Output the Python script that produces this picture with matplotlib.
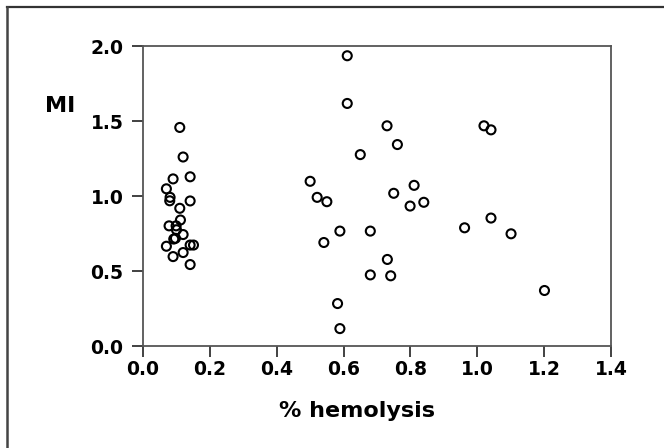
import matplotlib
matplotlib.use("Agg")
import matplotlib.pyplot as plt
from matplotlib.lines import Line2D

hemolysis = [0.110, 0.120, 0.090, 0.141, 0.070, 0.081, 0.080, 0.141, 0.110, 0.112,
             0.078, 0.099, 0.120, 0.100, 0.092, 0.097, 0.070, 0.141, 0.151, 0.090,
             0.120, 0.141,
             0.611, 0.611, 0.730, 0.761, 0.650, 0.500, 0.521, 0.550, 0.541, 0.589,
             0.680, 0.582, 0.589, 0.731, 0.680, 0.741, 0.750, 0.811, 0.799, 0.840,
             1.020, 1.041, 1.041, 0.962, 1.101, 1.201]
mi = [1.457, 1.260, 1.114, 1.128, 1.048, 0.991, 0.968, 0.967, 0.918, 0.840,
      0.801, 0.801, 0.743, 0.775, 0.713, 0.718, 0.665, 0.673, 0.673, 0.596,
      0.623, 0.543,
      1.935, 1.617, 1.468, 1.343, 1.276, 1.098, 0.991, 0.962, 0.690, 0.766,
      0.766, 0.283, 0.116, 0.577, 0.474, 0.468, 1.018, 1.071, 0.933, 0.958,
      1.468, 1.441, 0.853, 0.788, 0.748, 0.370]

xticks = [0.0, 0.2, 0.4, 0.6, 0.8, 1.0, 1.2, 1.4]
yticks = [0.0, 0.5, 1.0, 1.5, 2.0]

plt.rcParams['font.family'] = ['DejaVu Sans']

W, H = 664, 448
fig = plt.figure(figsize=(W / 100, H / 100), dpi=100)
ax = fig.add_axes([143 / W, 1 - 346 / H, (611 - 143) / W, (346 - 46) / H])

ax.scatter(hemolysis, mi, s=42, facecolors='none', edgecolors='black',
           linewidths=1.5, zorder=3, clip_on=False)

ax.set_xlim(0, 1.4)
ax.set_ylim(0, 2.0)
ax.set_xticks(xticks)
ax.set_yticks(yticks)
ax.set_xticklabels([f"{t:.1f}" for t in xticks], fontsize=13.5, fontweight='bold')
ax.set_yticklabels([f"{t:.1f}" for t in yticks], fontsize=13.5, fontweight='bold')
ax.tick_params(direction='out', length=8, width=1.3, color='#333333')
ax.tick_params(axis='x', pad=2)
ax.tick_params(axis='y', pad=6)
for sp in ax.spines.values():
    sp.set_color('#555555')
    sp.set_linewidth(1.3)

fig.text(357 / W, 1 - 417 / H, '% hemolysis', fontsize=16, fontweight='bold',
         ha='center', va='baseline')
fig.text(60 / W, 1 - 112 / H, 'MI', fontsize=16, fontweight='bold',
         ha='center', va='baseline')

# partial outer frame (top and left edges visible)
fig.add_artist(Line2D([6.7 / W, 1.0], [1 - 7 / H, 1 - 7 / H], transform=fig.transFigure,
                      color='#333333', linewidth=1.6))
fig.add_artist(Line2D([6.7 / W, 6.7 / W], [0.0, 1 - 7 / H], transform=fig.transFigure,
                      color='#444444', linewidth=1.8))

fig.savefig('out.png', dpi=100)
